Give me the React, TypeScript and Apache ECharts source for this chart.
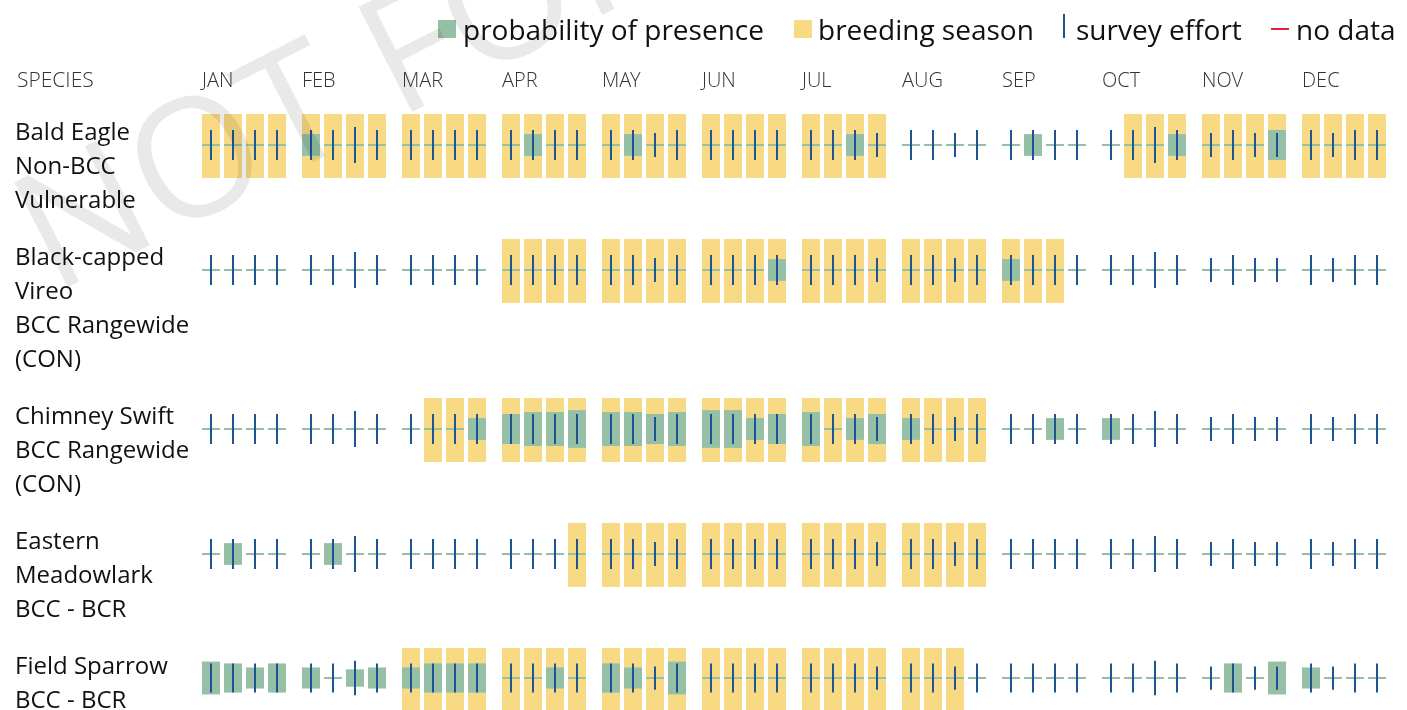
import React, { useEffect, useRef } from 'react';
import * as echarts from 'echarts';

// ---------- data ----------
const MONTHS = ['JAN', 'FEB', 'MAR', 'APR', 'MAY', 'JUN', 'JUL', 'AUG', 'SEP', 'OCT', 'NOV', 'DEC'];
const WEEKS_PER_MONTH = 4;

const SPECIES_LABELS: string[][] = [
  ['Bald Eagle', 'Non-BCC', 'Vulnerable'],
  ['Black-capped', 'Vireo', 'BCC Rangewide', '(CON)'],
  ['Chimney Swift', 'BCC Rangewide', '(CON)'],
  ['Eastern', 'Meadowlark', 'BCC - BCR'],
  ['Field Sparrow', 'BCC - BCR'],
];

// survey effort (bar height as a fraction of the row height), same for every species
const SURVEY_EFFORT = [
  0.47, 0.47, 0.47, 0.47, // JAN
  0.47, 0.47, 0.56, 0.47, // FEB
  0.47, 0.47, 0.47, 0.47, // MAR
  0.47, 0.47, 0.47, 0.47, // APR
  0.47, 0.47, 0.375, 0.47, // MAY
  0.47, 0.47, 0.47, 0.47, // JUN
  0.47, 0.47, 0.47, 0.375, // JUL
  0.47, 0.47, 0.375, 0.47, // AUG
  0.47, 0.47, 0.47, 0.47, // SEP
  0.47, 0.47, 0.56, 0.47, // OCT
  0.375, 0.47, 0.375, 0.375, // NOV
  0.47, 0.375, 0.47, 0.47, // DEC
];

// breeding season flags per week
const BALD_EAGLE_BREEDING = [
  1, 1, 1, 1, 1, 1, 1, 1, 1, 1, 1, 1, 1, 1, 1, 1, 1, 1, 1, 1, 1, 1, 1, 1,
  1, 1, 1, 1, 0, 0, 0, 0, 0, 0, 0, 0, 0, 1, 1, 1, 1, 1, 1, 1, 1, 1, 1, 1,
];
const VIREO_BREEDING = [
  0, 0, 0, 0, 0, 0, 0, 0, 0, 0, 0, 0, 1, 1, 1, 1, 1, 1, 1, 1, 1, 1, 1, 1,
  1, 1, 1, 1, 1, 1, 1, 1, 1, 1, 1, 0, 0, 0, 0, 0, 0, 0, 0, 0, 0, 0, 0, 0,
];
const SWIFT_BREEDING = [
  0, 0, 0, 0, 0, 0, 0, 0, 0, 1, 1, 1, 1, 1, 1, 1, 1, 1, 1, 1, 1, 1, 1, 1,
  1, 1, 1, 1, 1, 1, 1, 1, 0, 0, 0, 0, 0, 0, 0, 0, 0, 0, 0, 0, 0, 0, 0, 0,
];
const MEADOWLARK_BREEDING = [
  0, 0, 0, 0, 0, 0, 0, 0, 0, 0, 0, 0, 0, 0, 0, 1, 1, 1, 1, 1, 1, 1, 1, 1,
  1, 1, 1, 1, 1, 1, 1, 1, 0, 0, 0, 0, 0, 0, 0, 0, 0, 0, 0, 0, 0, 0, 0, 0,
];
const SPARROW_BREEDING = [
  0, 0, 0, 0, 0, 0, 0, 0, 1, 1, 1, 1, 1, 1, 1, 1, 1, 1, 1, 1, 1, 1, 1, 1,
  1, 1, 1, 1, 1, 1, 1, 0, 0, 0, 0, 0, 0, 0, 0, 0, 0, 0, 0, 0, 0, 0, 0, 0,
];

// probability of presence (bar height as a fraction of the row height)
const BALD_EAGLE_PROB = [
  0, 0, 0, 0, 0.34, 0, 0, 0, 0, 0, 0, 0, 0, 0.34, 0, 0, 0, 0.34, 0, 0, 0, 0, 0, 0,
  0, 0, 0.34, 0, 0, 0, 0, 0, 0, 0.34, 0, 0, 0, 0, 0, 0.34, 0, 0, 0, 0.47, 0, 0, 0, 0,
];
const VIREO_PROB = [
  0, 0, 0, 0, 0, 0, 0, 0, 0, 0, 0, 0, 0, 0, 0, 0, 0, 0, 0, 0, 0, 0, 0, 0.34,
  0, 0, 0, 0, 0, 0, 0, 0, 0.34, 0, 0, 0, 0, 0, 0, 0, 0, 0, 0, 0, 0, 0, 0, 0,
];
const SWIFT_PROB = [
  0, 0, 0, 0, 0, 0, 0, 0, 0, 0, 0, 0.34, 0.47, 0.53, 0.53, 0.59, 0.53, 0.53, 0.47, 0.53, 0.59, 0.59, 0.34, 0.47,
  0.53, 0, 0.34, 0.47, 0.34, 0, 0, 0, 0, 0, 0.34, 0, 0.34, 0, 0, 0, 0, 0, 0, 0, 0, 0, 0, 0,
];
const MEADOWLARK_PROB = [
  0, 0.34, 0, 0, 0, 0.34, 0, 0, 0, 0, 0, 0, 0, 0, 0, 0, 0, 0, 0, 0, 0, 0, 0, 0,
  0, 0, 0, 0, 0, 0, 0, 0, 0, 0, 0, 0, 0, 0, 0, 0, 0, 0, 0, 0, 0, 0, 0, 0,
];
const SPARROW_PROB = [
  0.53, 0.47, 0.34, 0.47, 0.34, 0, 0.28, 0.34, 0.34, 0.47, 0.47, 0.47, 0, 0, 0.34, 0, 0.47, 0.34, 0, 0.53, 0, 0, 0, 0,
  0, 0, 0, 0, 0, 0, 0, 0, 0, 0, 0, 0, 0, 0, 0, 0, 0, 0.47, 0, 0.53, 0.34, 0, 0, 0,
];

const BREEDING = [BALD_EAGLE_BREEDING, VIREO_BREEDING, SWIFT_BREEDING, MEADOWLARK_BREEDING, SPARROW_BREEDING];
const PROBABILITY = [BALD_EAGLE_PROB, VIREO_PROB, SWIFT_PROB, MEADOWLARK_PROB, SPARROW_PROB];

const LEGEND_LABELS = ['probability of presence', 'breeding season', 'survey effort', 'no data'];
const HEADER_LABEL = 'SPECIES';
const WATERMARK = 'NOT FOR CONSULTATION';

// ---------- style ----------
const FONT = "'Open Sans', 'Noto Sans', sans-serif";
const LIGHT_FONT = "'Open Sans Light', 'Open Sans', 'Noto Sans', sans-serif";
const YELLOW = '#F9DA84';
const GREEN = '#95C0A5';
const BLUE = '#1F5494';
const RED = '#E0203F';
const TEXT = '#111111';

const GRID_LEFT = 202;
const GRID_WIDTH = 1200;
const ROW_HEIGHT = 64;
const FIRST_TOP = 114;
const LINE_HEIGHT = 34;
const ROW_GAP = 23;
const WEEK_PITCH = 0.22; // fraction of a month band
const CELL_WIDTH = 0.18; // fraction of a month band

export default function App() {
  const ref = useRef<HTMLDivElement>(null);

  useEffect(() => {
    const chart = echarts.init(ref.current!, null, { renderer: 'svg' });

    const tops: number[] = [];
    let t = FIRST_TOP;
    SPECIES_LABELS.forEach((lines) => {
      tops.push(t);
      t += lines.length * LINE_HEIGHT + ROW_GAP;
    });

    const renderCell = (_params: any, api: any) => {
      const m = api.value(0);
      const w = api.value(1);
      const breeding = api.value(2);
      const prob = api.value(3);
      const effort = api.value(4);
      const start = api.coord([m, 0]);
      const monthW = api.size([1, 0])[0];
      const x = Math.round(start[0] + w * monthW * WEEK_PITCH);
      const cw = Math.round(monthW * CELL_WIDTH);
      const cy = start[1];
      const yTop = api.coord([m, 1])[1];
      const yBot = api.coord([m, -1])[1];
      const children: any[] = [];
      if (breeding) {
        children.push({ type: 'rect', shape: { x, y: yTop, width: cw, height: yBot - yTop }, style: { fill: YELLOW } });
      }
      children.push({ type: 'rect', shape: { x, y: cy - 2, width: cw, height: 2 }, style: { fill: GREEN } });
      if (prob > 0) {
        const p0 = api.coord([m, prob])[1];
        const p1 = api.coord([m, -prob])[1];
        children.push({ type: 'rect', shape: { x, y: p0 - 1, width: cw, height: p1 - p0 }, style: { fill: GREEN } });
      }
      const e0 = api.coord([m, effort])[1];
      const e1 = api.coord([m, -effort])[1];
      children.push({ type: 'rect', shape: { x: x + cw / 2 - 1, y: e0 - 1, width: 2, height: e1 - e0 }, style: { fill: BLUE } });
      return { type: 'group', children };
    };

    const series = SPECIES_LABELS.map((lines, s) => {
      const data: number[][] = [];
      for (let m = 0; m < MONTHS.length; m++) {
        for (let w = 0; w < WEEKS_PER_MONTH; w++) {
          const i = m * WEEKS_PER_MONTH + w;
          data.push([m, w, BREEDING[s][i], PROBABILITY[s][i], SURVEY_EFFORT[i]]);
        }
      }
      return {
        type: 'custom',
        name: lines[0],
        xAxisIndex: s,
        yAxisIndex: s,
        clip: false,
        renderItem: renderCell,
        data,
      };
    });

    const legendY = 29;
    const legendFont = 28;
    const graphic: any[] = [
      { type: 'rect', left: 438, top: 20, shape: { width: 18, height: 18 }, style: { fill: GREEN } },
      { type: 'text', x: 463, y: legendY, style: { text: LEGEND_LABELS[0], fontSize: legendFont, fontFamily: FONT, fill: TEXT, align: 'left', verticalAlign: 'middle' } },
      { type: 'rect', left: 794, top: 20, shape: { width: 18, height: 18 }, style: { fill: YELLOW } },
      { type: 'text', x: 818, y: legendY, style: { text: LEGEND_LABELS[1], fontSize: legendFont, fontFamily: FONT, fill: TEXT, align: 'left', verticalAlign: 'middle' } },
      { type: 'rect', left: 1063, top: 14, shape: { width: 2, height: 24 }, style: { fill: BLUE } },
      { type: 'text', x: 1076, y: legendY, style: { text: LEGEND_LABELS[2], fontSize: legendFont, fontFamily: FONT, fill: TEXT, align: 'left', verticalAlign: 'middle' } },
      { type: 'rect', left: 1271, top: 28, shape: { width: 18, height: 2 }, style: { fill: RED } },
      { type: 'text', x: 1296, y: legendY, style: { text: LEGEND_LABELS[3], fontSize: legendFont, fontFamily: FONT, fill: TEXT, align: 'left', verticalAlign: 'middle' } },
      { type: 'text', x: 17, y: 79, style: { text: HEADER_LABEL, fontSize: 21, fontFamily: LIGHT_FONT, fontWeight: 300, fill: '#333', align: 'left', verticalAlign: 'middle' } },
      ...SPECIES_LABELS.map((lines, s) => ({
        type: 'text',
        x: 15,
        y: tops[s] - 1,
        style: {
          text: lines.join('\n'),
          fontSize: 24,
          lineHeight: LINE_HEIGHT,
          fontFamily: FONT,
          fill: TEXT,
          align: 'left',
          verticalAlign: 'top',
        },
      })),
      {
        type: 'text',
        x: 62,
        y: 311,
        rotation: (27 * Math.PI) / 180,
        z: 100,
        style: {
          text: WATERMARK,
          fontSize: 165,
          fontWeight: 'normal',
          fontFamily: FONT,
          fill: 'rgba(0,0,0,0.085)',
          align: 'left',
          verticalAlign: 'bottom',
        },
      },
    ];

    chart.setOption({
      animation: false,
      grid: tops.map((top) => ({ left: GRID_LEFT, top, width: GRID_WIDTH, height: ROW_HEIGHT })),
      xAxis: tops.map((_, i) => ({
        type: 'value',
        gridIndex: i,
        min: 0,
        max: 12,
        interval: 1,
        position: 'top',
        show: i === 0,
        axisLine: { show: false },
        axisTick: { show: false },
        splitLine: { show: false },
        axisLabel: {
          formatter: (v: number) => MONTHS[v] ?? '',
          align: 'left',
          margin: 25,
          color: '#333',
          fontSize: 20,
          fontWeight: 300,
          fontFamily: LIGHT_FONT,
        },
      })),
      yAxis: tops.map((_, i) => ({ type: 'value', gridIndex: i, min: -1, max: 1, show: false })),
      series,
      graphic,
    });

    return () => chart.dispose();
  }, []);

  return <div ref={ref} style={{ position: 'fixed', left: 0, top: 0, width: 1407, height: 710 }} />;
}
